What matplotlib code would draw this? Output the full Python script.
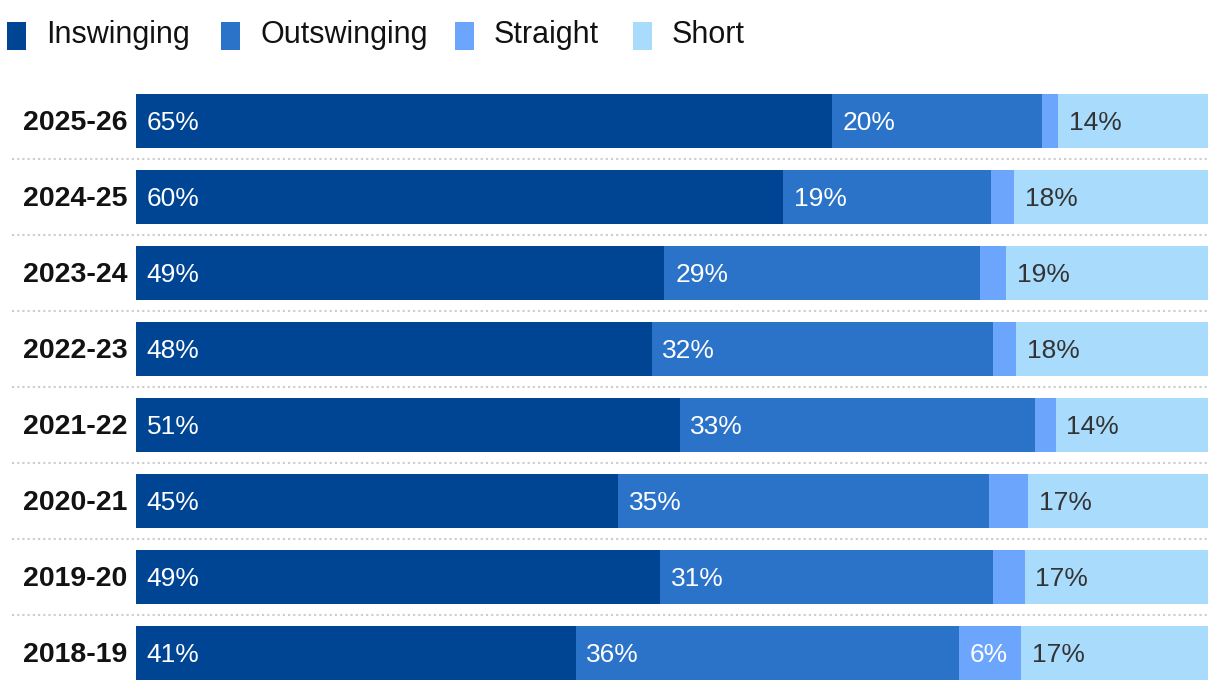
import matplotlib
matplotlib.use("Agg")
import matplotlib.pyplot as plt
from matplotlib.patches import Rectangle

# data
seasons = ["2025-26", "2024-25", "2023-24", "2022-23", "2021-22", "2020-21", "2019-20", "2018-19"]
inswinging = [64.9, 60.4, 49.3, 48.1, 50.7, 45.0, 48.9, 41.0]
outswinging = [19.6, 19.4, 29.4, 31.8, 33.2, 34.6, 31.0, 35.8]
straight = [1.5, 2.1, 2.5, 2.2, 1.9, 3.6, 3.0, 5.8]
short = [14.0, 18.1, 18.8, 17.9, 14.2, 16.8, 17.1, 17.4]

categories = ["Inswinging", "Outswinging", "Straight", "Short"]
colors = ["#004494", "#2a73c8", "#6ba6fc", "#a8dbfc"]
text_colors = ["white", "white", "white", "#333333"]

plt.rcParams["font.family"] = ["Liberation Sans", "DejaVu Sans"]

fig = plt.figure(figsize=(12.2, 6.9), dpi=100)
W, H = 1220, 690
ax = fig.add_axes([136 / W, 0, (1208 - 136) / W, (690 - 83) / H])

series = [inswinging, outswinging, straight, short]
ypos = list(range(len(seasons)))
lefts = [0.0] * len(seasons)
for vals, col, tcol in zip(series, colors, text_colors):
    ax.barh(ypos, vals, left=lefts, height=54 / 76, color=col, linewidth=0)
    for y, l, v in zip(ypos, lefts, vals):
        if v >= 5:
            ax.text(l + 1.0, y + 0.02, f"{round(v)}%", color=tcol, fontsize=19,
                    va="center", ha="left")
    lefts = [a + b for a, b in zip(lefts, vals)]

ax.set_xlim(0, 100)
ax.set_ylim(7.5 - 1 / 76, -0.5)
ax.axis("off")

# season labels
trans = ax.get_yaxis_transform()
for y, s in zip(ypos, seasons):
    ax.text(-0.008, y + 0.02, s, transform=trans, ha="right", va="center",
            fontsize=20.5, fontweight="bold", color="#121212")

# dotted separators
for y in ypos[:-1]:
    ax.plot([-0.116, 1.0], [y + 0.5, y + 0.5], transform=trans, color="#cccccc",
            linestyle=(0, (1, 1.5)), linewidth=1.5, clip_on=False)

# legend (manual, figure pixels)
sq_x = [7, 221, 455, 633]
for x0, c, name in zip(sq_x, colors, categories):
    fig.add_artist(Rectangle((x0 / W, 1 - 50 / H), 19 / W, 28 / H,
                             transform=fig.transFigure, facecolor=c, edgecolor="none"))
    fig.text((x0 + 39) / W, 1 - 35 / H, name, fontsize=22, va="center", ha="left",
             color="#121212")

fig.savefig("out.png", dpi=100)
